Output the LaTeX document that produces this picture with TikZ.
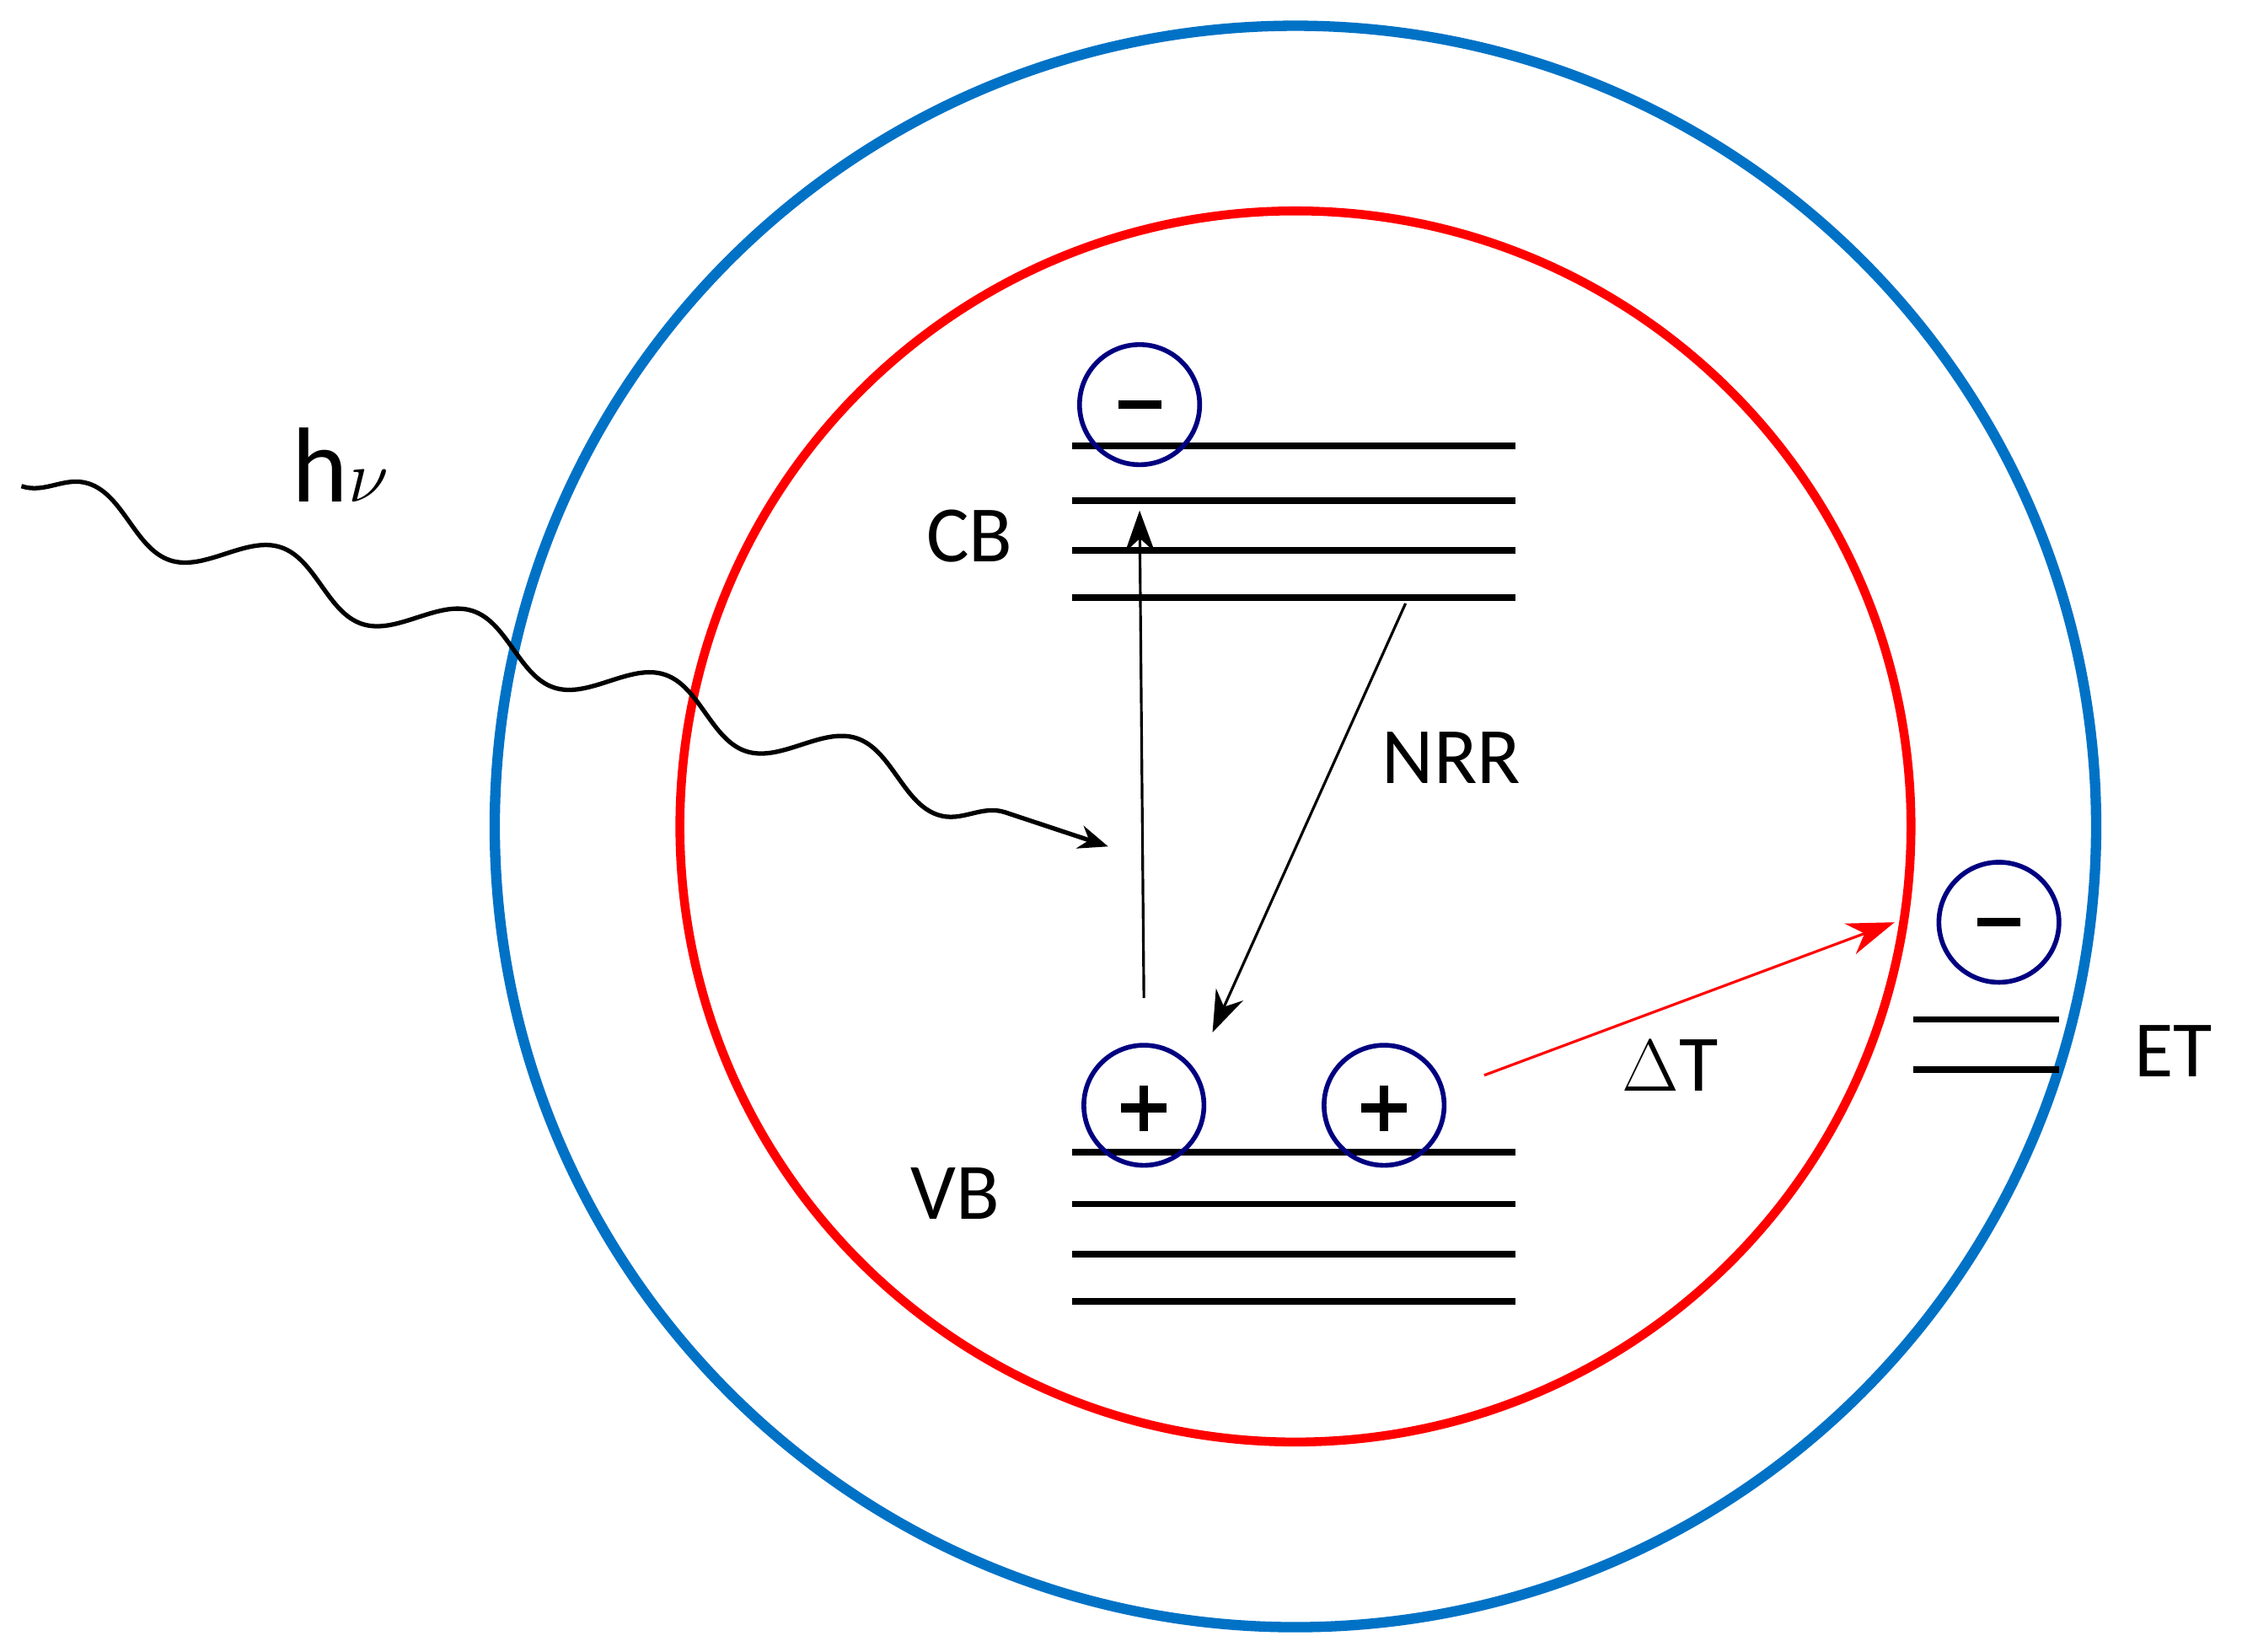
\documentclass[tikz,border=0pt]{standalone}
\usepackage{fontspec}
\setmainfont{Carlito}
\usetikzlibrary{decorations.pathmorphing,arrows.meta}
\begin{document}
\begin{tikzpicture}[x=0.016964cm,y=-0.016964cm,
  lvl/.style={line width=2.2pt},
  chg/.style={circle,draw=blue!50!black,line width=1.6pt,minimum size=84*0.016964cm,inner sep=0pt},
  lab/.style={font=\fontsize{27}{30}\selectfont}]
\useasboundingbox (0,0) rectangle (1568,1155);
\node[circle,draw={rgb,255:red,0;green,114;blue,198},line width=3.5pt,minimum size=1120*0.016964cm] (outer) at (906,578) {};
\node[circle,draw=red,line width=3pt,minimum size=861*0.016964cm] (inner) at (906,578) {};
\foreach \y in {312,350,385,418}{\draw[lvl] (750,\y) -- (1060,\y);}
\foreach \y in {806,842,877,910}{\draw[lvl] (750,\y) -- (1060,\y);}
\foreach \y in {713,748}{\draw[lvl] (1338,\y) -- (1440,\y);}
\node[chg] (e1) at (797,283) {};
\draw[line width=3pt] (782,283) -- (812,283);
\node[chg] (h1) at (800,773) {};
\draw[line width=3pt] (784,775) -- (816,775) (800,759) -- (800,791);
\node[chg] (h2) at (968,773) {};
\draw[line width=3pt] (952,775) -- (984,775) (968,759) -- (968,791);
\node[chg] (e2) at (1398,645) {};
\draw[line width=3pt] (1383,645) -- (1413,645);
\node[lab] (cb) at (678,375) {CB};
\node[lab] (vb) at (668,835) {VB};
\node[lab] (nrr) at (1015,530) {NRR};
\node[lab] (dt) at (1168,745) {$\Delta$T};
\node[lab] (et) at (1520,735) {ET};
\node[font=\fontsize{36}{40}\selectfont] (hv) at (238,325) {h$\nu$};
\coordinate (a1) at (800,698); \coordinate (a2) at (797,357);
\draw[line width=0.9pt,-{Stealth[length=14pt,width=10pt]}] (a1) -- (a2);
\coordinate (n1) at (983,422); \coordinate (n2) at (848,722);
\draw[line width=0.9pt,-{Stealth[length=14pt,width=10pt]}] (n1) -- (n2);
\coordinate (r1) at (1038,752); \coordinate (r2) at (1325,645);
\draw[red,line width=0.9pt,-{Stealth[length=16pt,width=11pt]}] (r1) -- (r2);
\coordinate (w1) at (15,340); \coordinate (w2) at (775,592);
\draw[line width=1.5pt,-{Stealth[length=10pt,width=8pt]},decorate,decoration={snake,amplitude=0.28cm,segment length=2.4cm,post length=4pt}] (w1) -- (w2);
\end{tikzpicture}
\end{document}
